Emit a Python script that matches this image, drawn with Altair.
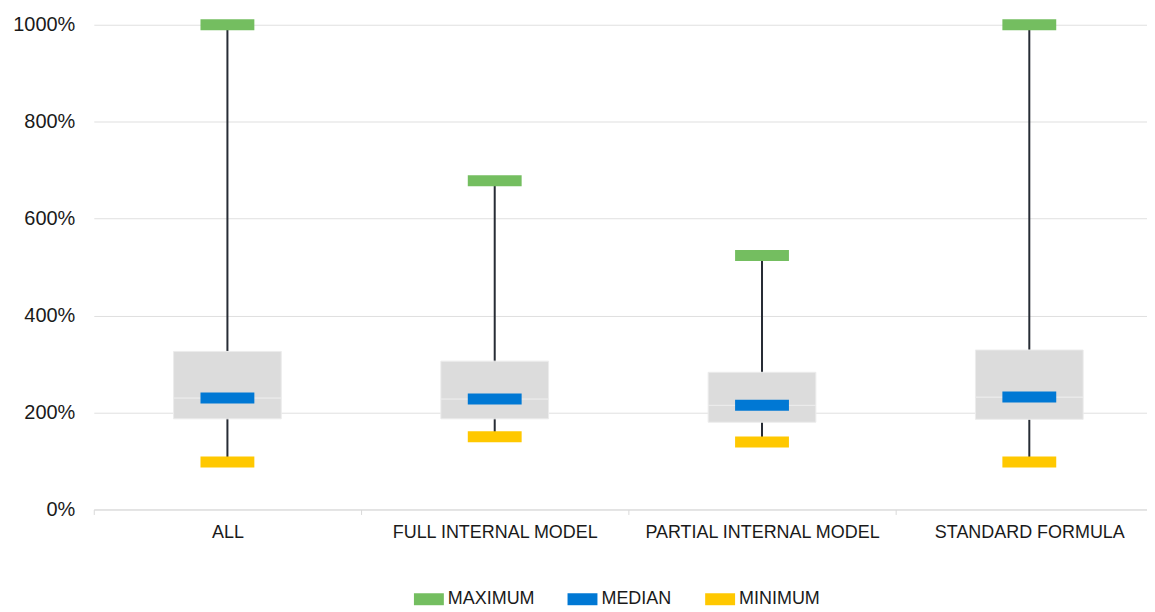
import altair as alt
import pandas as pd

categories = ["ALL", "FULL INTERNAL MODEL", "PARTIAL INTERNAL MODEL", "STANDARD FORMULA"]
minimum = [98, 150, 139, 98]
q1 = [187, 187, 180, 186]
median = [230, 228, 215, 232]
q3 = [326, 306, 283, 329]
maximum = [1000, 678, 524, 1000]

stat_names = ["MAXIMUM", "MEDIAN", "MINIMUM"]
stat_colors = ["#74BE60", "#0078D4", "#FFC800"]
y_ticks = [0, 200, 400, 600, 800, 1000]

box = pd.DataFrame({"cat": categories, "mn": minimum, "q1": q1, "med": median, "q3": q3, "mx": maximum})
marks = pd.DataFrame({
    "cat": categories * 3,
    "stat": ["MAXIMUM"] * 4 + ["MEDIAN"] * 4 + ["MINIMUM"] * 4,
    "value": maximum + median + minimum,
})

FONT = "Liberation Sans"
x_enc = alt.X("cat:N", sort=categories, title=None,
              scale=alt.Scale(paddingInner=0, paddingOuter=0, range=[0, 1072]),
              axis=alt.Axis(labelAngle=0, labelFontSize=18, labelColor="#1a1a1a", labelFont=FONT,
                            labelLimit=0, domainColor="#d9d9d9", tickColor="#d9d9d9", tickSize=5,
                            tickBand="extent", labelPadding=9, grid=False))
y_scale = alt.Scale(domain=[0, 1000], nice=False)
y_axis = alt.Axis(values=y_ticks, labelExpr="datum.value + '%'", labelFontSize=20, labelColor="#1a1a1a",
                  labelFont=FONT, domain=False, ticks=False, labelPadding=19,
                  gridColor="#e0e0e0", title=None)

base = alt.Chart(box)
whisker = base.mark_rule(color="#272c35", strokeWidth=2).encode(
    x=x_enc, y=alt.Y("mn:Q", scale=y_scale, axis=y_axis), y2="mx:Q")
box_lo = base.mark_bar(size=108, color="#dcdcdc", stroke="#ececec", strokeWidth=1).encode(
    x=x_enc, y=alt.Y("q1:Q", scale=y_scale, axis=y_axis), y2="med:Q")
box_hi = base.mark_bar(size=108, color="#dcdcdc", stroke="#ececec", strokeWidth=1).encode(
    x=x_enc, y=alt.Y("med:Q", scale=y_scale, axis=y_axis), y2="q3:Q")
ticks = alt.Chart(marks).mark_tick(size=54, thickness=11, opacity=1).encode(
    x=x_enc,
    y=alt.Y("value:Q", scale=y_scale, axis=y_axis),
    color=alt.Color("stat:N", sort=stat_names,
                    scale=alt.Scale(domain=stat_names, range=stat_colors),
                    legend=alt.Legend(title=None, orient="none", direction="horizontal",
                                      legendX=321, legendY=561,
                                      symbolType="M-1,-0.4H1V0.4H-1Z", symbolSize=900,
                                      symbolStrokeWidth=0, labelFontSize=18, labelFont=FONT,
                                      labelColor="#1a1a1a", labelOffset=4, columnPadding=33)),
)

chart = (
    alt.layer(whisker, box_lo, box_hi, ticks)
    .properties(
        width=1056, height=486,
        autosize=alt.AutoSizeParams(type="none"),
        padding={"left": 86, "top": 16, "right": 0, "bottom": 100},
    )
    .configure(font=FONT)
    .configure_view(strokeWidth=0, stroke="transparent")
    .configure_axisX(grid=False)
    .configure_axisY(domain=False, ticks=False)
)

chart.save("out.html", embed_options={"renderer": "svg", "actions": False})
